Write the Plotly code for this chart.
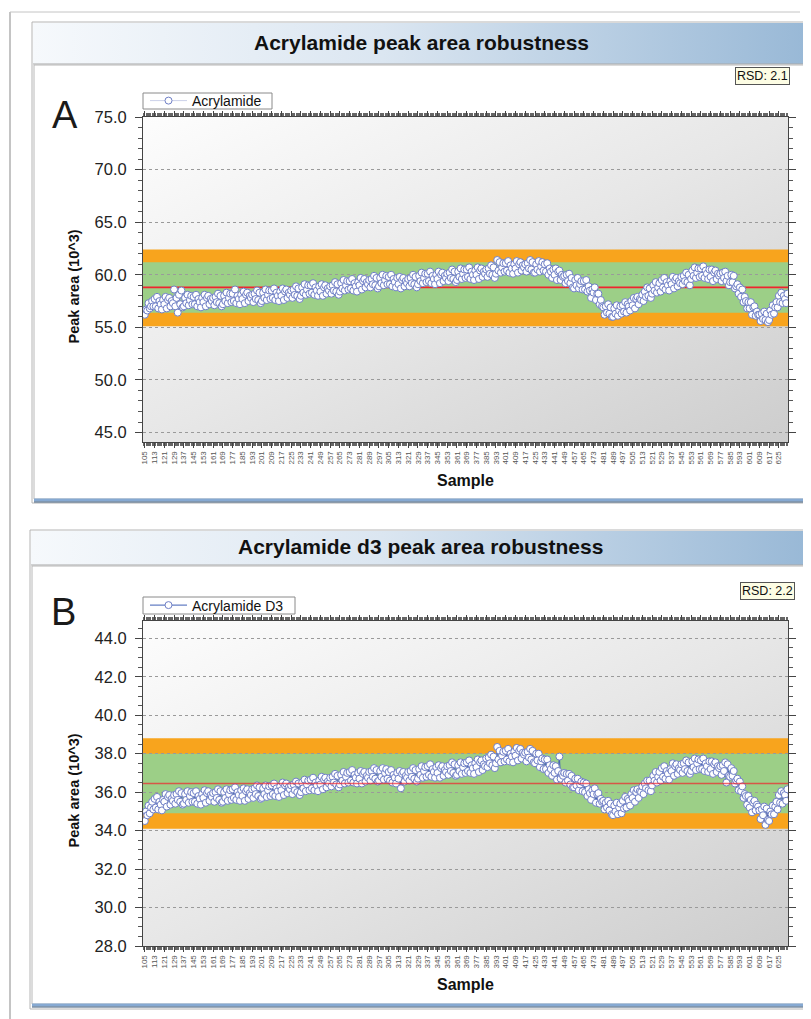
import base64
import plotly.graph_objects as go

# The page body adds an 8 px margin, so the figure is sized to fit the window
OFF = 8
W, H = 811 - OFF, 1019 - OFF


def px(x):
    return (x - OFF) / W


def py(y):
    return 1 - (y - OFF) / H


# ---------------- data ----------------
samples = list(range(105, 633))

acrylamide = [
    56.2, 56.7, 56.6, 57.3, 56.8, 57.0, 57.5, 57.0,
    57.7, 57.0, 57.9, 56.8, 57.5, 57.2, 56.7, 57.6,
    57.2, 57.9, 56.8, 57.6, 57.8, 57.0, 57.5, 57.3,
    58.6, 57.0, 57.8, 56.4, 58.1, 57.2, 58.5, 56.9,
    57.0, 57.8, 57.3, 58.1, 57.1, 57.6, 58.0, 57.2,
    57.9, 57.2, 58.1, 57.0, 57.7, 57.4, 56.9, 57.8,
    57.4, 58.1, 57.0, 57.8, 58.0, 57.2, 57.7, 57.5,
    57.8, 57.1, 57.9, 57.4, 58.2, 57.3, 58.0, 57.0,
    57.2, 58.0, 57.5, 58.3, 57.3, 57.8, 58.2, 57.4,
    58.2, 57.5, 58.6, 57.3, 58.0, 57.7, 57.2, 58.1,
    57.7, 58.4, 57.3, 58.1, 58.3, 57.5, 58.0, 57.8,
    58.1, 57.4, 58.2, 57.7, 58.5, 57.6, 58.3, 57.3,
    57.5, 58.3, 57.8, 58.6, 57.6, 58.1, 58.5, 57.7,
    58.5, 57.8, 58.7, 57.6, 58.3, 58.0, 57.5, 58.4,
    58.0, 58.7, 57.6, 58.4, 58.6, 57.8, 58.3, 58.1,
    58.5, 57.8, 58.6, 58.1, 58.9, 58.0, 58.7, 57.7,
    58.0, 58.8, 58.3, 59.1, 58.1, 58.6, 59.0, 58.2,
    59.0, 58.3, 59.2, 58.1, 58.8, 58.5, 58.0, 58.9,
    58.4, 59.1, 58.0, 58.8, 59.0, 58.2, 58.7, 58.5,
    58.9, 58.2, 59.0, 58.5, 59.3, 58.4, 59.1, 58.1,
    58.4, 59.2, 58.7, 59.5, 58.5, 59.0, 59.4, 58.6,
    59.4, 58.7, 59.6, 58.5, 59.2, 58.9, 58.4, 59.3,
    59.0, 59.7, 58.6, 59.4, 59.6, 58.8, 59.3, 59.1,
    59.5, 58.8, 59.6, 59.1, 59.9, 59.0, 59.7, 58.7,
    58.9, 59.7, 59.2, 60.0, 59.0, 59.5, 59.9, 59.1,
    59.8, 59.1, 60.0, 58.9, 59.6, 59.3, 58.8, 59.7,
    59.1, 59.8, 58.7, 59.5, 59.7, 58.9, 59.4, 59.2,
    59.6, 58.9, 59.7, 59.2, 60.0, 59.1, 59.8, 58.8,
    59.1, 59.9, 59.4, 60.2, 59.2, 59.7, 60.1, 59.3,
    60.1, 59.4, 60.3, 59.2, 59.9, 59.6, 59.1, 60.0,
    59.6, 60.3, 59.2, 60.0, 60.2, 59.4, 59.9, 59.7,
    60.1, 59.4, 60.2, 59.7, 60.5, 59.6, 60.3, 59.3,
    59.5, 60.3, 59.8, 60.6, 59.6, 60.1, 60.5, 59.7,
    60.5, 59.8, 60.7, 59.6, 60.3, 60.0, 59.5, 60.4,
    60.0, 60.7, 59.6, 60.4, 60.6, 59.8, 60.3, 60.1,
    60.5, 59.8, 60.6, 60.1, 60.9, 60.0, 60.7, 59.7,
    60.1, 61.4, 60.4, 61.2, 60.2, 60.7, 61.1, 60.3,
    61.1, 60.4, 61.3, 60.2, 60.9, 60.6, 60.1, 61.0,
    60.6, 61.3, 60.2, 61.0, 61.2, 60.4, 60.9, 60.7,
    61.0, 60.3, 61.1, 60.6, 61.4, 60.5, 61.2, 60.2,
    60.2, 61.0, 60.5, 61.3, 60.3, 60.8, 61.2, 60.4,
    61.0, 60.3, 61.1, 60.0, 60.6, 60.3, 59.7, 60.5,
    60.0, 60.6, 59.5, 60.3, 60.4, 59.5, 60.0, 59.8,
    59.9, 59.2, 60.0, 59.4, 60.1, 59.2, 59.7, 58.8,
    58.7, 59.5, 59.0, 59.7, 58.7, 59.1, 59.4, 58.6,
    59.4, 58.6, 59.5, 58.4, 58.9, 58.5, 57.8, 58.6,
    58.3, 58.8, 57.6, 58.2, 58.2, 57.2, 57.6, 57.0,
    56.9, 56.2, 57.0, 56.4, 57.2, 56.3, 56.9, 56.0,
    56.0, 56.8, 56.3, 57.1, 56.1, 56.6, 57.0, 56.3,
    57.1, 56.5, 57.4, 56.4, 57.2, 57.0, 56.6, 57.5,
    57.1, 57.8, 56.8, 57.7, 57.9, 57.2, 57.7, 57.6,
    58.1, 57.5, 58.4, 57.9, 58.8, 58.0, 58.7, 57.8,
    58.2, 59.0, 58.5, 59.3, 58.3, 58.8, 59.2, 58.4,
    59.5, 58.8, 59.7, 58.6, 59.3, 59.0, 58.5, 59.4,
    59.1, 59.8, 58.7, 59.5, 59.7, 58.9, 59.4, 59.2,
    59.8, 59.1, 59.9, 59.4, 60.2, 59.3, 60.0, 59.0,
    59.6, 60.4, 59.9, 60.7, 59.7, 60.2, 60.6, 59.8,
    60.6, 59.9, 60.8, 59.7, 60.4, 60.1, 59.6, 60.5,
    59.8, 60.5, 59.4, 60.2, 60.4, 59.6, 60.1, 59.9,
    60.1, 59.4, 60.2, 59.7, 60.3, 59.4, 59.9, 59.0,
    59.3, 60.0, 59.3, 59.9, 58.7, 58.9, 59.1, 58.2,
    58.8, 57.9, 58.6, 57.4, 57.9, 57.5, 56.8, 57.4,
    56.8, 57.4, 56.2, 56.9, 57.0, 56.1, 56.5, 56.2,
    56.2, 55.6, 56.3, 55.8, 56.5, 55.7, 56.3, 55.5,
    55.7, 56.6, 56.2, 57.1, 56.3, 56.9, 57.4, 56.9,
    58.0, 57.4, 58.3, 57.3, 58.0, 57.7, 57.3, 58.2,
]

acrylamide_d3 = [
    34.5, 35.0, 34.8, 35.3, 34.9, 35.2, 35.5, 35.1,
    35.65, 35.2, 35.75, 35.1, 35.5, 35.35, 35.05, 35.6,
    35.5, 35.9, 35.25, 35.75, 35.85, 35.35, 35.65, 35.55,
    35.85, 35.4, 35.9, 35.6, 36.05, 35.5, 35.95, 35.35,
    35.4, 35.9, 35.6, 36.05, 35.45, 35.8, 36.0, 35.5,
    35.95, 35.5, 36.05, 35.4, 35.8, 35.65, 35.35, 35.9,
    35.7, 36.1, 35.45, 35.95, 36.05, 35.55, 35.85, 35.75,
    35.95, 35.5, 36.0, 35.7, 36.15, 35.6, 36.05, 35.45,
    35.5, 36.0, 35.7, 36.15, 35.55, 35.9, 36.1, 35.6,
    36.15, 35.7, 36.25, 35.6, 36.0, 35.85, 35.55, 36.1,
    35.8, 36.2, 35.55, 36.05, 36.15, 35.65, 35.95, 35.85,
    36.15, 35.7, 36.2, 35.9, 36.35, 35.8, 36.25, 35.65,
    35.7, 36.2, 35.9, 36.35, 35.75, 36.1, 36.3, 35.8,
    36.35, 35.9, 36.45, 35.8, 36.2, 36.05, 35.75, 36.3,
    36.1, 36.5, 35.85, 36.35, 36.45, 35.95, 36.25, 36.15,
    36.35, 35.9, 36.4, 36.1, 36.55, 36.0, 36.45, 35.85,
    36.0, 36.5, 36.2, 36.65, 36.05, 36.4, 36.6, 36.1,
    36.65, 36.2, 36.75, 36.1, 36.5, 36.35, 36.05, 36.6,
    36.4, 36.8, 36.15, 36.65, 36.75, 36.25, 36.55, 36.45,
    36.75, 36.3, 36.8, 36.5, 36.95, 36.4, 36.85, 36.25,
    36.4, 36.9, 36.6, 37.05, 36.45, 36.8, 37.0, 36.5,
    37.05, 36.6, 37.15, 36.5, 36.9, 36.75, 36.45, 37.0,
    36.7, 37.1, 36.45, 36.95, 37.05, 36.55, 36.85, 36.75,
    37.05, 36.6, 37.1, 36.8, 37.25, 36.7, 37.15, 36.55,
    36.6, 37.1, 36.8, 37.25, 36.65, 37.0, 37.2, 36.7,
    37.05, 36.6, 37.15, 36.5, 36.9, 36.75, 36.45, 37.0,
    36.7, 37.1, 36.2, 36.95, 37.05, 36.55, 36.85, 36.75,
    37.05, 36.6, 37.1, 36.8, 37.25, 36.7, 37.15, 36.55,
    36.7, 37.2, 36.9, 37.35, 36.75, 37.1, 37.3, 36.8,
    37.35, 36.9, 37.45, 36.8, 37.2, 37.05, 36.75, 37.3,
    37.0, 37.4, 36.75, 37.25, 37.35, 36.85, 37.15, 37.05,
    37.35, 36.9, 37.4, 37.1, 37.55, 37.0, 37.45, 36.85,
    36.9, 37.4, 37.1, 37.55, 36.95, 37.3, 37.5, 37.0,
    37.55, 37.1, 37.65, 37.0, 37.4, 37.25, 36.95, 37.5,
    37.3, 37.7, 37.05, 37.55, 37.65, 37.15, 37.45, 37.35,
    37.75, 37.3, 37.8, 37.5, 37.95, 37.4, 37.85, 37.25,
    37.5, 38.35, 37.7, 38.15, 37.55, 37.9, 38.1, 37.6,
    38.15, 37.7, 38.25, 37.6, 38.0, 37.85, 37.55, 38.1,
    37.9, 38.3, 37.65, 38.15, 38.25, 37.75, 38.05, 37.95,
    38.05, 37.6, 38.1, 37.8, 38.25, 37.7, 38.15, 37.55,
    37.5, 38.0, 37.65, 38.0, 37.3, 37.6, 37.75, 37.2,
    37.7, 37.2, 37.7, 37.0, 37.4, 37.2, 36.85, 37.4,
    37.0, 37.35, 36.65, 37.1, 37.85, 36.7, 36.95, 36.85,
    37.0, 36.5, 36.95, 36.6, 36.95, 36.4, 36.85, 36.25,
    36.25, 36.7, 36.35, 36.7, 36.1, 36.4, 36.55, 36.05,
    36.5, 36.0, 36.45, 35.8, 36.15, 35.95, 35.6, 36.1,
    35.9, 36.2, 35.45, 35.9, 35.95, 35.4, 35.65, 35.5,
    35.55, 35.1, 35.45, 35.2, 35.55, 35.05, 35.4, 34.85,
    34.8, 35.3, 35.0, 35.45, 34.85, 35.2, 35.4, 34.9,
    35.55, 35.15, 35.75, 35.2, 35.65, 35.55, 35.3, 35.9,
    35.7, 36.1, 35.5, 36.0, 36.15, 35.7, 36.05, 36.0,
    36.3, 35.9, 36.45, 36.2, 36.6, 36.1, 36.6, 36.05,
    36.35, 36.85, 36.6, 37.05, 36.5, 36.8, 37.05, 36.6,
    37.25, 36.8, 37.35, 36.7, 37.1, 36.95, 36.65, 37.2,
    37.1, 37.5, 36.85, 37.35, 37.45, 36.95, 37.25, 37.15,
    37.45, 37.0, 37.5, 37.2, 37.65, 37.1, 37.55, 36.95,
    37.1, 37.6, 37.3, 37.75, 37.15, 37.5, 37.7, 37.2,
    37.65, 37.2, 37.75, 37.1, 37.5, 37.35, 37.05, 37.6,
    37.2, 37.6, 36.95, 37.45, 37.55, 37.05, 37.35, 37.25,
    37.35, 36.9, 37.4, 37.1, 37.55, 36.5, 37.45, 36.85,
    36.8, 37.25, 36.85, 37.1, 36.45, 36.6, 36.7, 36.1,
    36.55, 36.05, 36.3, 35.7, 35.9, 35.8, 35.35, 35.8,
    35.2, 35.6, 34.95, 35.45, 35.55, 35.05, 35.35, 35.25,
    35.05, 34.6, 35.1, 34.8, 35.25, 34.3, 35.15, 34.55,
    34.5, 35.0, 34.85, 35.3, 34.85, 35.25, 35.5, 35.1,
    35.85, 35.45, 36.05, 35.4, 35.95, 35.85, 35.55, 36.15,
]

tick_samples = list(range(105, 626, 8))
tick_labels = [str(s) for s in tick_samples]

# control limits (mean, +/-2 SD, +/-3 SD)
a_mean = 58.8
a_2sd = (56.4, 61.2)
a_3sd = (55.1, 62.4)
b_mean = 36.45
b_2sd = (34.9, 38.0)
b_3sd = (34.1, 38.8)

titles = ["Acrylamide peak area robustness", "Acrylamide d3 peak area robustness"]
series_names = ["Acrylamide", "Acrylamide D3"]
rsd_values = ["2.1", "2.2"]
panel_letters = ["A", "B"]

FONT = "Liberation Sans, Arial, sans-serif"

# ---------------- gradient helpers ----------------


def svg_uri(stops, x2, y2):
    st = "".join('<stop offset="%s" stop-color="%s"/>' % (o, c) for o, c in stops)
    svg = ('<svg xmlns="http://www.w3.org/2000/svg" width="100" height="100" '
           'viewBox="0 0 100 100" preserveAspectRatio="none"><defs>'
           '<linearGradient id="g" x1="0" y1="0" x2="%s" y2="%s">%s</linearGradient>'
           '</defs><rect width="100" height="100" fill="url(#g)"/></svg>') % (x2, y2, st)
    return "data:image/svg+xml;base64," + base64.b64encode(svg.encode()).decode()


title_grad = svg_uri([(0, "#f6f9fc"), (0.45, "#dbe6f1"), (1, "#98b8d6")], 1, 0)
plot_grad = svg_uri([(0, "#fdfdfd"), (0.5, "#e7e7e7"), (1, "#cdcdcd")], 1, 1)


def img(src, x0, y0, x1, y1):
    return dict(source=src, xref="paper", yref="paper", x=px(x0), y=py(y0),
                sizex=(x1 - x0) / W, sizey=(y1 - y0) / H, xanchor="left",
                yanchor="top", sizing="stretch", layer="below")


# panel geometry (pixels in the window)
panels = [
    dict(outer=(32, 22, 810, 503), bar=(33, 23, 810, 64), inner=(34, 65, 806, 499),
         plot=(143, 117, 788, 442), title_y=42, letter=(65, 115), rsd=(762, 76),
         legend_box=(143, 93, 272, 109), xtitle_y=480),
    dict(outer=(30, 530, 811, 1009), bar=(31, 531, 811, 565), inner=(32, 566, 806, 1004),
         plot=(143, 621, 788, 946), title_y=546, letter=(63, 612), rsd=(767, 591),
         legend_box=(143, 597, 295, 614), xtitle_y=984),
]

fig = go.Figure()

fig.add_trace(go.Scatter(
    x=samples, y=acrylamide, mode="lines+markers", name=series_names[0],
    line=dict(color="rgba(160,170,215,0.55)", width=1),
    marker=dict(size=7, color="white", line=dict(color="#6f7fc6", width=1)),
    xaxis="x", yaxis="y", legend="legend"))

fig.add_trace(go.Scatter(
    x=samples, y=acrylamide_d3, mode="lines+markers", name=series_names[1],
    line=dict(color="#3f5fb5", width=1),
    marker=dict(size=7, color="white", line=dict(color="#6f7fc6", width=1)),
    xaxis="x2", yaxis="y2", legend="legend2"))

shapes = []
images = []
annotations = []

# page border
shapes.append(dict(type="line", xref="paper", yref="paper", x0=px(10), x1=px(10),
                   y0=py(12), y1=py(1019), line=dict(color="#c4c4c4", width=2)))
shapes.append(dict(type="line", xref="paper", yref="paper", x0=px(10), x1=px(800),
                   y0=py(12), y1=py(12), line=dict(color="#c4c4c4", width=1)))

for i, p in enumerate(panels):
    ox0, oy0, ox1, oy1 = p["outer"]
    bx0, by0, bx1, by1 = p["bar"]
    ix0, iy0, ix1, iy1 = p["inner"]
    qx0, qy0, qx1, qy1 = p["plot"]
    lx0, ly0, lx1, ly1 = p["legend_box"]
    images.append(img(title_grad, bx0, by0, bx1, by1))
    images.append(img(plot_grad, qx0, qy0, qx1, qy1))
    shapes.append(dict(type="rect", xref="paper", yref="paper", x0=px(ox0), x1=px(ox1),
                       y0=py(oy0), y1=py(oy1), line=dict(color="#b4b4b4", width=1)))
    shapes.append(dict(type="line", xref="paper", yref="paper", x0=px(bx0), x1=px(bx1),
                       y0=py(by1), y1=py(by1), line=dict(color="#a8a8a8", width=1)))
    shapes.append(dict(type="rect", xref="paper", yref="paper", x0=px(ix0), x1=px(ix1),
                       y0=py(iy0), y1=py(iy1), line=dict(color="#b8b8b8", width=1)))
    # blue bevel bottom / right
    shapes.append(dict(type="line", xref="paper", yref="paper", x0=px(ix0), x1=px(ix1 + 2),
                       y0=py(iy1 + 1), y1=py(iy1 + 1), line=dict(color="#86a9d2", width=3)))
    shapes.append(dict(type="line", xref="paper", yref="paper", x0=px(ix1 + 1), x1=px(ix1 + 1),
                       y0=py(iy0), y1=py(iy1 + 2), line=dict(color="#86a9d2", width=3)))
    shapes.append(dict(type="line", xref="paper", yref="paper", x0=px(ix0), x1=px(ix1 + 3),
                       y0=py(iy1 + 3), y1=py(iy1 + 3), line=dict(color="#3f5a78", width=1)))
    shapes.append(dict(type="line", xref="paper", yref="paper", x0=px(ix1 + 3), x1=px(ix1 + 3),
                       y0=py(iy0), y1=py(iy1 + 3), line=dict(color="#3f5a78", width=1)))
    # legend frame
    shapes.append(dict(type="rect", xref="paper", yref="paper", x0=px(lx0), x1=px(lx1),
                       y0=py(ly0), y1=py(ly1), fillcolor="white",
                       line=dict(color="#8a8a8a", width=1)))

    annotations.append(dict(text="<b>%s</b>" % titles[i], xref="paper", yref="paper",
                            x=px((bx0 + bx1) / 2), y=py(p["title_y"]), showarrow=False,
                            xanchor="center", yanchor="middle",
                            font=dict(family=FONT, size=21, color="#111")))
    annotations.append(dict(text=panel_letters[i], xref="paper", yref="paper",
                            x=px(p["letter"][0]), y=py(p["letter"][1]), showarrow=False,
                            xanchor="center", yanchor="middle",
                            font=dict(family=FONT, size=38, color="#1a1a1a")))
    annotations.append(dict(text="RSD: %s" % rsd_values[i], xref="paper", yref="paper",
                            x=px(p["rsd"][0]), y=py(p["rsd"][1]), showarrow=False,
                            xanchor="center", yanchor="middle",
                            bgcolor="#fdfde4", bordercolor="#555", borderwidth=1, borderpad=1,
                            font=dict(family=FONT, size=12.5, color="#111")))
    annotations.append(dict(text="<b>Peak area (10^3)</b>", xref="paper", yref="paper",
                            x=px(73), y=py((qy0 + qy1) / 2 + 7), textangle=-90, showarrow=False,
                            xanchor="center", yanchor="middle",
                            font=dict(family=FONT, size=14.5, color="#111")))
    annotations.append(dict(text="<b>Sample</b>", xref="paper", yref="paper",
                            x=px((qx0 + qx1) / 2), y=py(p["xtitle_y"]), showarrow=False,
                            xanchor="center", yanchor="middle",
                            font=dict(family=FONT, size=16, color="#111")))

# control bands
for ax, m, s2, s3, above in [("", a_mean, a_2sd, a_3sd, False), ("2", b_mean, b_2sd, b_3sd, True)]:
    shapes.append(dict(type="rect", xref="x%s domain" % ax, yref="y%s" % ax, x0=0, x1=1,
                       y0=s3[0], y1=s3[1], fillcolor="#f8a41d", line=dict(width=0), layer="below"))
    shapes.append(dict(type="rect", xref="x%s domain" % ax, yref="y%s" % ax, x0=0, x1=1,
                       y0=s2[0], y1=s2[1], fillcolor="#9ccf87", line=dict(width=0), layer="below"))
    shapes.append(dict(type="line", xref="x%s domain" % ax, yref="y%s" % ax, x0=0, x1=1,
                       y0=m, y1=m, line=dict(color="#f0242e", width=1.6),
                       opacity=0.7 if above else 1, layer="above" if above else "below"))


def xaxis_cfg(dom_px, anchor):
    return dict(domain=[px(dom_px[0]), px(dom_px[2])], anchor=anchor,
                range=[103.5, 632.5], tickmode="array", tickvals=tick_samples,
                ticktext=tick_labels, tickangle=-90,
                tickfont=dict(family=FONT, size=8, color="#555"),
                ticks="outside", ticklen=5, tickcolor="#444", tickwidth=1,
                minor=dict(tickmode="linear", tick0=105, dtick=1, ticks="outside",
                           ticklen=3, tickcolor="#666", showgrid=False),
                showline=True, linecolor="#444", linewidth=1, mirror="ticks",
                showgrid=False, zeroline=False, automargin=False)


def yaxis_cfg(dom_px, anchor, rng, tick0, dtick, mdtick):
    return dict(domain=[py(dom_px[3]), py(dom_px[1])], anchor=anchor, range=rng,
                tickmode="linear", tick0=tick0, dtick=dtick,
                tickformat=".1f", tickfont=dict(family=FONT, size=16.5, color="#222"),
                ticks="outside", ticklen=7, tickcolor="#444", ticklabelstandoff=5,
                minor=dict(dtick=mdtick, ticks="outside", ticklen=4, tickcolor="#555",
                           showgrid=False),
                showline=True, linecolor="#444", linewidth=1, mirror="ticks",
                showgrid=True, gridcolor="#9a9a9a", griddash="dot", gridwidth=1,
                zeroline=False, automargin=False)


def legend_cfg(box):
    return dict(x=px(box[0] + 2), y=py((box[1] + box[3]) / 2), xanchor="left",
                yanchor="middle", bgcolor="rgba(0,0,0,0)", borderwidth=0,
                font=dict(family=FONT, size=14, color="#111"), itemwidth=37,
                visible=True)


fig.update_layout(
    width=W, height=H, margin=dict(l=0, r=0, t=0, b=0, pad=0, autoexpand=False),
    paper_bgcolor="white", plot_bgcolor="rgba(0,0,0,0)",
    font=dict(family=FONT), showlegend=True,
    xaxis=xaxis_cfg(panels[0]["plot"], "y"),
    yaxis=yaxis_cfg(panels[0]["plot"], "x", [44.1, 75], 45, 5, 1),
    xaxis2=xaxis_cfg(panels[1]["plot"], "y2"),
    yaxis2=yaxis_cfg(panels[1]["plot"], "x2", [28, 44.9], 28, 2, 0.5),
    legend=legend_cfg(panels[0]["legend_box"]),
    legend2=legend_cfg(panels[1]["legend_box"]),
    shapes=shapes, images=images, annotations=annotations,
)

fig.write_html("out.html")
